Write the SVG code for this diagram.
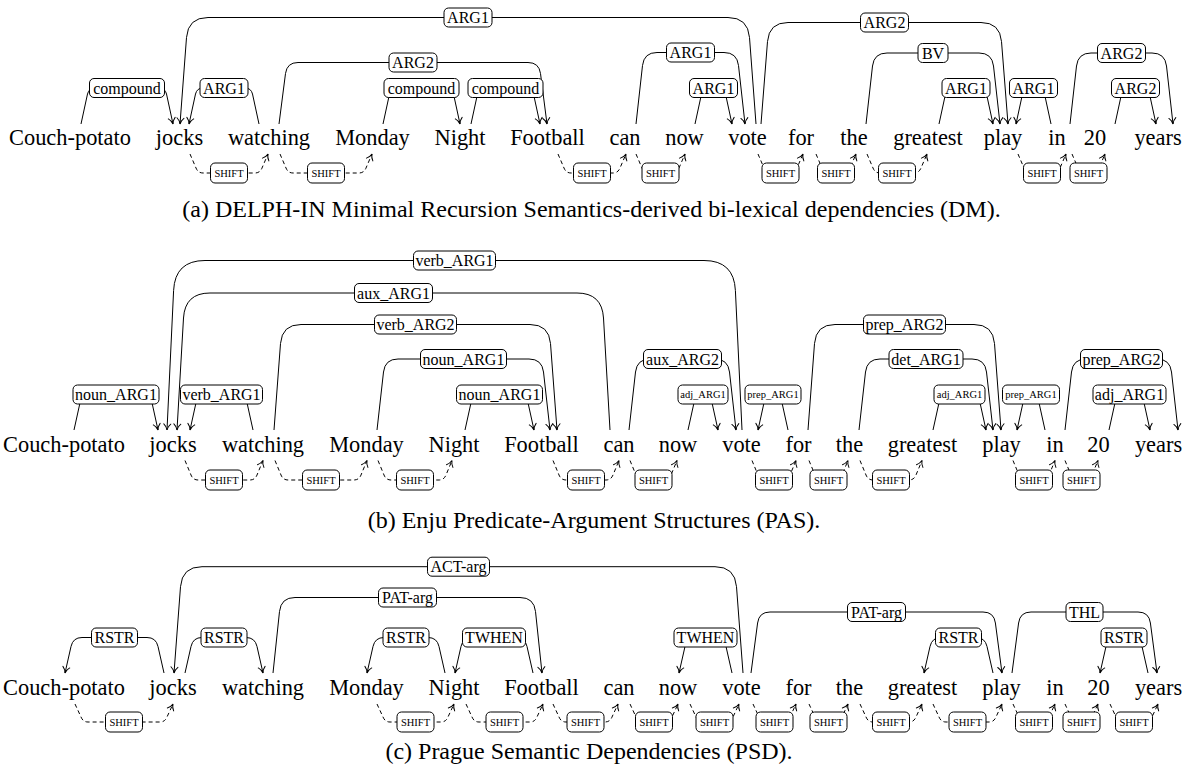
<svg xmlns="http://www.w3.org/2000/svg" width="1197" height="767" viewBox="0 0 1197 767">
<defs>
<style>
text{font-family:"Liberation Serif","Times New Roman",serif;fill:#000;text-anchor:middle}
.w{font-size:22.4px}
.cap{font-size:24px}
.l{font-size:16px}
.s{font-size:10.5px}
.arc{fill:none;stroke:#000;stroke-width:1;marker-end:url(#ah)}
.sh{fill:none;stroke:#000;stroke-width:1;stroke-dasharray:4 3;marker-end:url(#ah)}
.b{fill:#fff;stroke:#000;stroke-width:1}
</style>
<marker id="ah" markerUnits="userSpaceOnUse" markerWidth="14" markerHeight="14" refX="0" refY="0" orient="auto" overflow="visible">
<path d="M-6,-3.5 C-4,-1.2 -1.5,-0.3 0,0 C-1.5,0.3 -4,1.2 -6,3.5" fill="none" stroke="#000" stroke-width="1" stroke-dasharray="none" stroke-linecap="round"/>
</marker>
</defs>
<rect width="1197" height="767" fill="#fff"/>

<!-- Row (a) words -->
<g id="words-a">
<g id="a-couch"><text class="w" x="70" y="145">Couch-potato</text></g>
<g id="a-jocks"><text class="w" x="179.5" y="145">jocks</text></g>
<g id="a-watching"><text class="w" x="269" y="145">watching</text></g>
<g id="a-monday"><text class="w" x="372.5" y="145">Monday</text></g>
<g id="a-night"><text class="w" x="460" y="145">Night</text></g>
<g id="a-football"><text class="w" x="547.5" y="145">Football</text></g>
<g id="a-can"><text class="w" x="625" y="145">can</text></g>
<g id="a-now"><text class="w" x="684.5" y="145">now</text></g>
<g id="a-vote"><text class="w" x="747.5" y="145">vote</text></g>
<g id="a-for"><text class="w" x="801" y="145">for</text></g>
<g id="a-the"><text class="w" x="854" y="145">the</text></g>
<g id="a-greatest"><text class="w" x="928" y="145">greatest</text></g>
<g id="a-play"><text class="w" x="1003" y="145">play</text></g>
<g id="a-in"><text class="w" x="1057" y="145">in</text></g>
<g id="a-20"><text class="w" x="1095" y="145">20</text></g>
<g id="a-years"><text class="w" x="1158" y="145">years</text></g>
</g>

<!-- Row (b) words -->
<g id="words-b">
<g id="b-couch"><text class="w" x="64" y="452">Couch-potato</text></g>
<g id="b-jocks"><text class="w" x="173" y="452">jocks</text></g>
<g id="b-watching"><text class="w" x="263" y="452">watching</text></g>
<g id="b-monday"><text class="w" x="366.5" y="452">Monday</text></g>
<g id="b-night"><text class="w" x="454" y="452">Night</text></g>
<g id="b-football"><text class="w" x="541.5" y="452">Football</text></g>
<g id="b-can"><text class="w" x="619" y="452">can</text></g>
<g id="b-now"><text class="w" x="678" y="452">now</text></g>
<g id="b-vote"><text class="w" x="741.5" y="452">vote</text></g>
<g id="b-for"><text class="w" x="798.5" y="452">for</text></g>
<g id="b-the"><text class="w" x="849.5" y="452">the</text></g>
<g id="b-greatest"><text class="w" x="922.5" y="452">greatest</text></g>
<g id="b-play"><text class="w" x="1001.5" y="452">play</text></g>
<g id="b-in"><text class="w" x="1055" y="452">in</text></g>
<g id="b-20"><text class="w" x="1098.5" y="452">20</text></g>
<g id="b-years"><text class="w" x="1158.5" y="452">years</text></g>
</g>

<!-- Row (c) words -->
<g id="words-c">
<g id="c-couch"><text class="w" x="64" y="695">Couch-potato</text></g>
<g id="c-jocks"><text class="w" x="173" y="695">jocks</text></g>
<g id="c-watching"><text class="w" x="263" y="695">watching</text></g>
<g id="c-monday"><text class="w" x="366.5" y="695">Monday</text></g>
<g id="c-night"><text class="w" x="454" y="695">Night</text></g>
<g id="c-football"><text class="w" x="541.5" y="695">Football</text></g>
<g id="c-can"><text class="w" x="619" y="695">can</text></g>
<g id="c-now"><text class="w" x="678" y="695">now</text></g>
<g id="c-vote"><text class="w" x="741.5" y="695">vote</text></g>
<g id="c-for"><text class="w" x="798.5" y="695">for</text></g>
<g id="c-the"><text class="w" x="849.5" y="695">the</text></g>
<g id="c-greatest"><text class="w" x="922.5" y="695">greatest</text></g>
<g id="c-play"><text class="w" x="1001.5" y="695">play</text></g>
<g id="c-in"><text class="w" x="1055" y="695">in</text></g>
<g id="c-20"><text class="w" x="1098.5" y="695">20</text></g>
<g id="c-years"><text class="w" x="1158.5" y="695">years</text></g>
</g>

<!-- Captions -->
<g id="captions">
<text class="cap" x="591.5" y="217">(a) DELPH-IN Minimal Recursion Semantics-derived bi-lexical dependencies (DM).</text>
<text class="cap" x="594" y="528">(b) Enju Predicate-Argument Structures (PAS).</text>
<text class="cap" x="589" y="759">(c) Prague Semantic Dependencies (PSD).</text>
</g>

<!-- Connectors -->
<g id="connectors">
<!-- row a -->
<path class="arc" d="M81,124 L87.5,94 Q89,88 95,88 L159,88 Q165,88 166.5,94 L173,124"/>
<path class="arc" d="M259,124 L252.5,94 Q251,88 245,88 L203,88 Q197,88 195.5,94 L189,124"/>
<path class="arc" d="M756,124 L749.5,37.5 Q748,17.5 728,17.5 L208,17.5 Q188,17.5 186.5,37.5 L180,124"/>
<path class="arc" d="M279,124 L285.5,73.5 Q287,62.5 298,62.5 L528,62.5 Q539,62.5 540.5,73.5 L547,124"/>
<path class="arc" d="M383,124 L389.5,94 Q391,88 397,88 L446,88 Q452,88 453.5,94 L460,124"/>
<path class="arc" d="M471,124 L477.5,94 Q479,88 485,88 L526,88 Q532,88 533.5,94 L540,124"/>
<path class="arc" d="M636,124 L642.5,65.5 Q644,52.5 657,52.5 L724,52.5 Q737,52.5 738.5,65.5 L745,124"/>
<path class="arc" d="M695,124 L701.5,94 Q703,88 709,88 L718,88 Q724,88 725.5,94 L732,124"/>
<path class="arc" d="M761,124 L767.5,41.5 Q769,22.5 788,22.5 L981,22.5 Q1000,22.5 1001.5,41.5 L1008,124"/>
<path class="arc" d="M866,124 L872.5,66 Q874,53 887,53 L979,53 Q992,53 993.5,66 L1000,124"/>
<path class="arc" d="M939,124 L945.5,94 Q947,88 953,88 L979,88 Q985,88 986.5,94 L993,124"/>
<path class="arc" d="M1051,124 L1044.5,94 Q1043,88 1037,88 L1030,88 Q1024,88 1022.5,94 L1016,124"/>
<path class="arc" d="M1070,124 L1076.5,66 Q1078,53 1091,53 L1152,53 Q1165,53 1166.5,66 L1173,124"/>
<path class="arc" d="M1115,124 L1121.5,94 Q1123,88 1129,88 L1142,88 Q1148,88 1149.5,94 L1156,124"/>
<path class="sh" d="M190,154 L196,168 Q198,173 203,173 L255,173 Q260,173 262,168 L268,154"/>
<path class="sh" d="M280,154 L286,168 Q288,173 293,173 L359,173 Q364,173 366,168 L372,154"/>
<path class="sh" d="M558,154 L564,168 Q566,173 571,173 L613,173 Q618,173 620,168 L626,154"/>
<path class="sh" d="M636,154 L642,168 Q644,173 649,173 L672,173 Q677,173 679,168 L685,154"/>
<path class="sh" d="M758,154 L764,168 Q766,173 771,173 L790,173 Q795,173 797,168 L803,154"/>
<path class="sh" d="M816,154 L822,168 Q824,173 829,173 L843,173 Q848,173 850,168 L856,154"/>
<path class="sh" d="M867,154 L873,168 Q875,173 880,173 L914,173 Q919,173 921,168 L927,154"/>
<path class="sh" d="M1018,154 L1024,168 Q1026,173 1031,173 L1053,173 Q1058,173 1060,168 L1066,154"/>
<path class="sh" d="M1072,154 L1078,168 Q1080,173 1085,173 L1092,173 Q1097,173 1099,168 L1105,154"/>
<!-- row b -->
<path class="arc" d="M74,430 L80.5,400.5 Q82,394.5 88,394.5 L144,394.5 Q150,394.5 151.5,400.5 L158,430"/>
<path class="arc" d="M253,430 L246.5,400.5 Q245,394.5 239,394.5 L204,394.5 Q198,394.5 196.5,400.5 L190,430"/>
<path class="arc" d="M742,430 L735.4,290.5 Q734,260.5 704,260.5 L205,260.5 Q175,260.5 173.6,290.5 L167,430"/>
<path class="arc" d="M610,430 L603.5,318 Q602,293 577,293 L210,293 Q185,293 183.5,318 L177,430"/>
<path class="arc" d="M274,430 L280.5,343.5 Q282,324.5 301,324.5 L530,324.5 Q549,324.5 550.5,343.5 L557,430"/>
<path class="arc" d="M377,430 L383.5,372 Q385,359 398,359 L529,359 Q542,359 543.5,372 L550,430"/>
<path class="arc" d="M465,430 L471.5,400.5 Q473,394.5 479,394.5 L520,394.5 Q526,394.5 527.5,400.5 L534,430"/>
<path class="arc" d="M629,430 L635.5,372 Q637,359 650,359 L715,359 Q728,359 729.5,372 L736,430"/>
<path class="arc" d="M688,430 L694.5,400.5 Q696,394.5 702,394.5 L704,394.5 Q710,394.5 711.5,400.5 L718,430"/>
<path class="arc" d="M788,430 L781.5,400.5 Q780,394.5 774,394.5 L772,394.5 Q766,394.5 764.5,400.5 L758,430"/>
<path class="arc" d="M808,430 L814.5,343.5 Q816,324.5 835,324.5 L974,324.5 Q993,324.5 994.5,343.5 L1001,430"/>
<path class="arc" d="M859,430 L865.5,372 Q867,359 880,359 L972,359 Q985,359 986.5,372 L993,430"/>
<path class="arc" d="M933,430 L939.5,400.5 Q941,394.5 947,394.5 L972,394.5 Q978,394.5 979.5,400.5 L986,430"/>
<path class="arc" d="M1045,430 L1038.5,400.5 Q1037,394.5 1031,394.5 Q1025,394.5 1023.5,400.5 L1017,430"/>
<path class="arc" d="M1065,430 L1071.5,372 Q1073,359 1086,359 L1157,359 Q1170,359 1171.5,372 L1178,430"/>
<path class="arc" d="M1109,430 L1115.5,400.5 Q1117,394.5 1123,394.5 L1136,394.5 Q1142,394.5 1143.5,400.5 L1150,430"/>
<path class="sh" d="M185,460.5 L191,475 Q193,480 198,480 L250,480 Q255,480 257,475 L263,460.5"/>
<path class="sh" d="M275,460.5 L281,475 Q283,480 288,480 L354,480 Q359,480 361,475 L367,460.5"/>
<path class="sh" d="M378,460.5 L384,475 Q386,480 391,480 L439,480 Q444,480 446,475 L452,460.5"/>
<path class="sh" d="M553,460.5 L559,475 Q561,480 566,480 L606,480 Q611,480 613,475 L619,460.5"/>
<path class="sh" d="M630,460.5 L636,475 Q638,480 643,480 L664,480 Q669,480 671,475 L677,460.5"/>
<path class="sh" d="M752,460.5 L758,475 Q760,480 765,480 L783,480 Q788,480 790,475 L796,460.5"/>
<path class="sh" d="M809,460.5 L815,475 Q817,480 822,480 L835,480 Q840,480 842,475 L848,460.5"/>
<path class="sh" d="M860,460.5 L866,475 Q868,480 873,480 L909,480 Q914,480 916,475 L922,460.5"/>
<path class="sh" d="M1013,460.5 L1019,475 Q1021,480 1026,480 L1042,480 Q1047,480 1049,475 L1055,460.5"/>
<path class="sh" d="M1065,460.5 L1071,475 Q1073,480 1078,480 L1085,480 Q1090,480 1092,475 L1098,460.5"/>
<!-- row c -->
<path class="arc" d="M164,673 L158,646.5 Q156,637.5 147,637.5 L82,637.5 Q73,637.5 71,646.5 L65,673"/>
<path class="arc" d="M185,673 L191,646.5 Q193,637.5 202,637.5 L246,637.5 Q255,637.5 257,646.5 L263,673"/>
<path class="arc" d="M743,673 L736.5,586.7 Q735,566.7 715,566.7 L202,566.7 Q182,566.7 180.5,586.7 L174,673"/>
<path class="arc" d="M273,673 L279.5,611.5 Q281,597.5 295,597.5 L520,597.5 Q534,597.5 535.5,611.5 L542,673"/>
<path class="arc" d="M445,673 L439,646.5 Q437,637.5 428,637.5 L384,637.5 Q375,637.5 373,646.5 L367,673"/>
<path class="arc" d="M533,673 L527,646.5 Q525,637.5 516,637.5 L472,637.5 Q463,637.5 461,646.5 L455,673"/>
<path class="arc" d="M732,673 L726,646.5 Q724,637.5 715,637.5 L696,637.5 Q687,637.5 685,646.5 L679,673"/>
<path class="arc" d="M751,673 L757.6,623 Q759,612 770,612 L983,612 Q994,612 995.4,623 L1002,673"/>
<path class="arc" d="M993,673 L987,646.5 Q985,637.5 976,637.5 L941,637.5 Q932,637.5 930,646.5 L924,673"/>
<path class="arc" d="M1012,673 L1018.6,623 Q1020,612 1031,612 L1138,612 Q1149,612 1150.4,623 L1157,673"/>
<path class="arc" d="M1148,673 L1142,646.5 Q1140,637.5 1131,637.5 L1117,637.5 Q1108,637.5 1106,646.5 L1100,673"/>
<path class="sh" d="M75,704 L81,717 Q83,722 88,722 L160,722 Q165,722 167,717 L173,704"/>
<path class="sh" d="M377,704 L383,717 Q385,722 390,722 L441,722 Q446,722 448,717 L454,704"/>
<path class="sh" d="M466,704 L472,717 Q474,722 479,722 L530,722 Q535,722 537,717 L543,704"/>
<path class="sh" d="M553,704 L559,717 Q561,722 566,722 L605,722 Q610,722 612,717 L618,704"/>
<path class="sh" d="M630,704 L636,717 Q638,722 643,722 L665,722 Q670,722 672,717 L678,704"/>
<path class="sh" d="M690,704 L696,717 Q698,722 703,722 L726,722 Q731,722 733,717 L739,704"/>
<path class="sh" d="M753,704 L759,717 Q761,722 766,722 L783,722 Q788,722 790,717 L796,704"/>
<path class="sh" d="M809,704 L815,717 Q817,722 822,722 L835,722 Q840,722 842,717 L848,704"/>
<path class="sh" d="M860,704 L866,717 Q868,722 873,722 L909,722 Q914,722 916,717 L922,704"/>
<path class="sh" d="M933,704 L939,717 Q941,722 946,722 L989,722 Q994,722 996,717 L1002,704"/>
<path class="sh" d="M1013,704 L1019,717 Q1021,722 1026,722 L1042,722 Q1047,722 1049,717 L1055,704"/>
<path class="sh" d="M1065,704 L1071,717 Q1073,722 1078,722 L1085,722 Q1090,722 1092,717 L1098,704"/>
<path class="sh" d="M1110,704 L1116,717 Q1118,722 1123,722 L1145,722 Q1150,722 1152,717 L1158,704"/>
</g>

<!-- Edge labels -->
<g id="edge-labels">
<!-- row a -->
<g id="la1"><rect class="b" x="89.5" y="78.5" width="75" height="19" rx="4.5"/><text class="l" x="127" y="93.5">compound</text></g>
<g id="la2"><rect class="b" x="200" y="78.5" width="48" height="19" rx="4.5"/><text class="l" x="224" y="93.5">ARG1</text></g>
<g id="la3"><rect class="b" x="444" y="8" width="48" height="19" rx="4.5"/><text class="l" x="468" y="23">ARG1</text></g>
<g id="la4"><rect class="b" x="389" y="53" width="48" height="19" rx="4.5"/><text class="l" x="413" y="68">ARG2</text></g>
<g id="la5"><rect class="b" x="384" y="78.5" width="75" height="19" rx="4.5"/><text class="l" x="421.5" y="93.5">compound</text></g>
<g id="la6"><rect class="b" x="468" y="78.5" width="75" height="19" rx="4.5"/><text class="l" x="505.5" y="93.5">compound</text></g>
<g id="la7"><rect class="b" x="666.5" y="43" width="48" height="19" rx="4.5"/><text class="l" x="690.5" y="58">ARG1</text></g>
<g id="la8"><rect class="b" x="689.5" y="78.5" width="48" height="19" rx="4.5"/><text class="l" x="713.5" y="93.5">ARG1</text></g>
<g id="la9"><rect class="b" x="860.5" y="13" width="48" height="19" rx="4.5"/><text class="l" x="884.5" y="28">ARG2</text></g>
<g id="la10"><rect class="b" x="918" y="43.5" width="30" height="19" rx="4.5"/><text class="l" x="933" y="58.5">BV</text></g>
<g id="la11"><rect class="b" x="942" y="78.5" width="48" height="19" rx="4.5"/><text class="l" x="966" y="93.5">ARG1</text></g>
<g id="la12"><rect class="b" x="1009.5" y="78.5" width="48" height="19" rx="4.5"/><text class="l" x="1033.5" y="93.5">ARG1</text></g>
<g id="la13"><rect class="b" x="1097.5" y="43.5" width="48" height="19" rx="4.5"/><text class="l" x="1121.5" y="58.5">ARG2</text></g>
<g id="la14"><rect class="b" x="1111.5" y="78.5" width="48" height="19" rx="4.5"/><text class="l" x="1135.5" y="93.5">ARG2</text></g>
<!-- row a shift -->
<g id="sa1"><rect class="b" x="210.5" y="163" width="37" height="20" rx="4.5"/><text class="s" x="229" y="176.7">SHIFT</text></g>
<g id="sa2"><rect class="b" x="307.5" y="163" width="37" height="20" rx="4.5"/><text class="s" x="326" y="176.7">SHIFT</text></g>
<g id="sa3"><rect class="b" x="573.5" y="163" width="37" height="20" rx="4.5"/><text class="s" x="592" y="176.7">SHIFT</text></g>
<g id="sa4"><rect class="b" x="642" y="163" width="37" height="20" rx="4.5"/><text class="s" x="660.5" y="176.7">SHIFT</text></g>
<g id="sa5"><rect class="b" x="762" y="163" width="37" height="20" rx="4.5"/><text class="s" x="780.5" y="176.7">SHIFT</text></g>
<g id="sa6"><rect class="b" x="817.5" y="163" width="37" height="20" rx="4.5"/><text class="s" x="836" y="176.7">SHIFT</text></g>
<g id="sa7"><rect class="b" x="878.5" y="163" width="37" height="20" rx="4.5"/><text class="s" x="897" y="176.7">SHIFT</text></g>
<g id="sa8"><rect class="b" x="1023.5" y="163" width="37" height="20" rx="4.5"/><text class="s" x="1042" y="176.7">SHIFT</text></g>
<g id="sa9"><rect class="b" x="1070" y="163" width="37" height="20" rx="4.5"/><text class="s" x="1088.5" y="176.7">SHIFT</text></g>
<!-- row b -->
<g id="lb1"><rect class="b" x="73" y="385" width="86" height="19" rx="4.5"/><text class="l" x="116" y="400">noun_ARG1</text></g>
<g id="lb2"><rect class="b" x="180.5" y="385" width="82" height="19" rx="4.5"/><text class="l" x="221.5" y="400">verb_ARG1</text></g>
<g id="lb3"><rect class="b" x="413.5" y="251" width="82" height="19" rx="4.5"/><text class="l" x="454.5" y="266">verb_ARG1</text></g>
<g id="lb4"><rect class="b" x="354.5" y="283.5" width="78" height="19" rx="4.5"/><text class="l" x="393.5" y="298.5">aux_ARG1</text></g>
<g id="lb5"><rect class="b" x="374.5" y="315" width="82" height="19" rx="4.5"/><text class="l" x="415.5" y="330">verb_ARG2</text></g>
<g id="lb6"><rect class="b" x="420.5" y="349.5" width="86" height="19" rx="4.5"/><text class="l" x="463.5" y="364.5">noun_ARG1</text></g>
<g id="lb7"><rect class="b" x="456.5" y="385" width="86" height="19" rx="4.5"/><text class="l" x="499.5" y="400">noun_ARG1</text></g>
<g id="lb8"><rect class="b" x="643.5" y="349.5" width="78" height="19" rx="4.5"/><text class="l" x="682.5" y="364.5">aux_ARG2</text></g>
<g id="lb9"><rect class="b" x="678" y="385" width="50" height="19" rx="4.5"/><text class="s" x="703" y="398.2">adj_ARG1</text></g>
<g id="lb10"><rect class="b" x="745" y="385" width="56" height="19" rx="4.5"/><text class="s" x="773" y="398.2">prep_ARG1</text></g>
<g id="lb11"><rect class="b" x="863.5" y="315" width="82" height="19" rx="4.5"/><text class="l" x="904.5" y="330">prep_ARG2</text></g>
<g id="lb12"><rect class="b" x="889" y="349.5" width="74" height="19" rx="4.5"/><text class="l" x="926" y="364.5">det_ARG1</text></g>
<g id="lb13"><rect class="b" x="934" y="385" width="51" height="19" rx="4.5"/><text class="s" x="959.5" y="398.2">adj_ARG1</text></g>
<g id="lb14"><rect class="b" x="1002.5" y="385" width="57" height="19" rx="4.5"/><text class="s" x="1031" y="398.2">prep_ARG1</text></g>
<g id="lb15"><rect class="b" x="1080.5" y="349.5" width="82" height="19" rx="4.5"/><text class="l" x="1121.5" y="364.5">prep_ARG2</text></g>
<g id="lb16"><rect class="b" x="1093" y="385" width="73" height="19" rx="4.5"/><text class="l" x="1129.5" y="400">adj_ARG1</text></g>
<!-- row b shift -->
<g id="sb1"><rect class="b" x="205.5" y="470" width="37" height="20" rx="4.5"/><text class="s" x="224" y="483.7">SHIFT</text></g>
<g id="sb2"><rect class="b" x="302.5" y="470" width="37" height="20" rx="4.5"/><text class="s" x="321" y="483.7">SHIFT</text></g>
<g id="sb3"><rect class="b" x="396.5" y="470" width="37" height="20" rx="4.5"/><text class="s" x="415" y="483.7">SHIFT</text></g>
<g id="sb4"><rect class="b" x="567.5" y="470" width="37" height="20" rx="4.5"/><text class="s" x="586" y="483.7">SHIFT</text></g>
<g id="sb5"><rect class="b" x="635" y="470" width="37" height="20" rx="4.5"/><text class="s" x="653.5" y="483.7">SHIFT</text></g>
<g id="sb6"><rect class="b" x="755.5" y="470" width="37" height="20" rx="4.5"/><text class="s" x="774" y="483.7">SHIFT</text></g>
<g id="sb7"><rect class="b" x="810" y="470" width="37" height="20" rx="4.5"/><text class="s" x="828.5" y="483.7">SHIFT</text></g>
<g id="sb8"><rect class="b" x="872.5" y="470" width="37" height="20" rx="4.5"/><text class="s" x="891" y="483.7">SHIFT</text></g>
<g id="sb9"><rect class="b" x="1015.5" y="470" width="37" height="20" rx="4.5"/><text class="s" x="1034" y="483.7">SHIFT</text></g>
<g id="sb10"><rect class="b" x="1063" y="470" width="37" height="20" rx="4.5"/><text class="s" x="1081.5" y="483.7">SHIFT</text></g>
<!-- row c -->
<g id="lc1"><rect class="b" x="91.5" y="628" width="46" height="19" rx="4.5"/><text class="l" x="114.5" y="643">RSTR</text></g>
<g id="lc2"><rect class="b" x="201" y="628" width="46" height="19" rx="4.5"/><text class="l" x="224" y="643">RSTR</text></g>
<g id="lc3"><rect class="b" x="427.5" y="557.2" width="62" height="19" rx="4.5"/><text class="l" x="458.5" y="572.2">ACT-arg</text></g>
<g id="lc4"><rect class="b" x="378.5" y="588" width="58" height="19" rx="4.5"/><text class="l" x="407.5" y="603">PAT-arg</text></g>
<g id="lc5"><rect class="b" x="383" y="628" width="46" height="19" rx="4.5"/><text class="l" x="406" y="643">RSTR</text></g>
<g id="lc6"><rect class="b" x="462.5" y="628" width="63" height="19" rx="4.5"/><text class="l" x="494" y="643">TWHEN</text></g>
<g id="lc7"><rect class="b" x="674" y="628" width="63" height="19" rx="4.5"/><text class="l" x="705.5" y="643">TWHEN</text></g>
<g id="lc8"><rect class="b" x="847.5" y="602.5" width="58" height="19" rx="4.5"/><text class="l" x="876.5" y="617.5">PAT-arg</text></g>
<g id="lc9"><rect class="b" x="935.5" y="628" width="46" height="19" rx="4.5"/><text class="l" x="958.5" y="643">RSTR</text></g>
<g id="lc10"><rect class="b" x="1066" y="602.5" width="37" height="19" rx="4.5"/><text class="l" x="1084.5" y="617.5">THL</text></g>
<g id="lc11"><rect class="b" x="1101" y="628" width="46" height="19" rx="4.5"/><text class="l" x="1124" y="643">RSTR</text></g>
<!-- row c shift -->
<g id="sc1"><rect class="b" x="105.5" y="712" width="37" height="20" rx="4.5"/><text class="s" x="124" y="725.7">SHIFT</text></g>
<g id="sc2"><rect class="b" x="397" y="712" width="37" height="20" rx="4.5"/><text class="s" x="415.5" y="725.7">SHIFT</text></g>
<g id="sc3"><rect class="b" x="486" y="712" width="37" height="20" rx="4.5"/><text class="s" x="504.5" y="725.7">SHIFT</text></g>
<g id="sc4"><rect class="b" x="567" y="712" width="37" height="20" rx="4.5"/><text class="s" x="585.5" y="725.7">SHIFT</text></g>
<g id="sc5"><rect class="b" x="635.5" y="712" width="37" height="20" rx="4.5"/><text class="s" x="654" y="725.7">SHIFT</text></g>
<g id="sc6"><rect class="b" x="696" y="712" width="37" height="20" rx="4.5"/><text class="s" x="714.5" y="725.7">SHIFT</text></g>
<g id="sc7"><rect class="b" x="756" y="712" width="37" height="20" rx="4.5"/><text class="s" x="774.5" y="725.7">SHIFT</text></g>
<g id="sc8"><rect class="b" x="810" y="712" width="37" height="20" rx="4.5"/><text class="s" x="828.5" y="725.7">SHIFT</text></g>
<g id="sc9"><rect class="b" x="872.5" y="712" width="37" height="20" rx="4.5"/><text class="s" x="891" y="725.7">SHIFT</text></g>
<g id="sc10"><rect class="b" x="949" y="712" width="37" height="20" rx="4.5"/><text class="s" x="967.5" y="725.7">SHIFT</text></g>
<g id="sc11"><rect class="b" x="1015.5" y="712" width="37" height="20" rx="4.5"/><text class="s" x="1034" y="725.7">SHIFT</text></g>
<g id="sc12"><rect class="b" x="1063" y="712" width="37" height="20" rx="4.5"/><text class="s" x="1081.5" y="725.7">SHIFT</text></g>
<g id="sc13"><rect class="b" x="1115.5" y="712" width="37" height="20" rx="4.5"/><text class="s" x="1134" y="725.7">SHIFT</text></g>
</g>
</svg>
